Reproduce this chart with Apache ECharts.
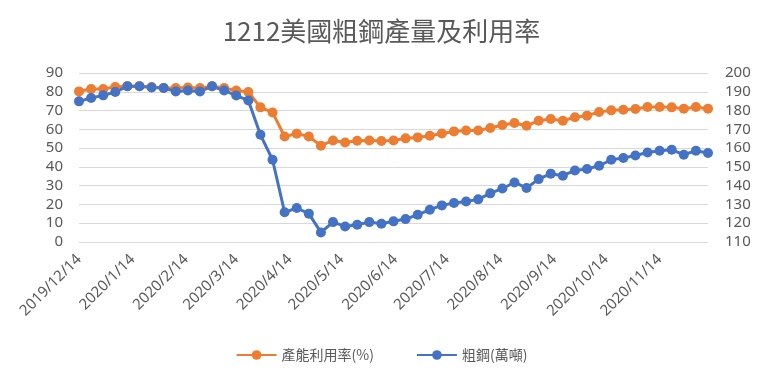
<!DOCTYPE html>
<html><head><meta charset="utf-8">
<script src="https://cdn.jsdelivr.net/npm/echarts@6/dist/echarts.min.js"></script>
<style>html,body{margin:0;padding:0;background:#fff}#c{width:763px;height:383px}</style>
</head><body><div id="c"></div>
<script>
const dates = ['2019-12-14','2019-12-21','2019-12-28','2020-01-04','2020-01-11','2020-01-18','2020-01-25',
'2020-02-01','2020-02-08','2020-02-15','2020-02-22','2020-02-29','2020-03-07','2020-03-14','2020-03-21','2020-03-28',
'2020-04-04','2020-04-11','2020-04-18','2020-04-25','2020-05-02','2020-05-09','2020-05-16','2020-05-23','2020-05-30',
'2020-06-06','2020-06-13','2020-06-20','2020-06-27','2020-07-04','2020-07-11','2020-07-18','2020-07-25',
'2020-08-01','2020-08-08','2020-08-15','2020-08-22','2020-08-29','2020-09-05','2020-09-12','2020-09-19','2020-09-26',
'2020-10-03','2020-10-10','2020-10-17','2020-10-24','2020-10-31','2020-11-07','2020-11-14','2020-11-21','2020-11-28',
'2020-12-05','2020-12-12'];
const utilization = [80.2,81.5,81.5,82.5,83,83,82.5,82,82,82.3,82,83,82,80.7,79.9,71.7,69,56.2,57.7,56.2,51.3,54.1,53.0,53.9,54.1,53.8,54.1,55.2,55.7,56.6,57.8,58.9,59.4,59.4,60.7,62.3,63.4,61.9,64.6,65.5,64.6,66.4,67.3,69.2,70.1,70.4,70.8,71.9,71.9,71.7,71.0,71.9,71.0];
const steel = [184.9,186.7,188.1,189.9,192.9,192.9,192.3,192,190.2,190.7,190.2,192.9,190.7,188,185.4,167.1,153.8,125.8,128.1,125.1,115.1,120.6,118.3,119.2,120.6,119.7,121.0,122.2,124.5,127.2,129.5,130.8,131.6,132.7,135.9,138.5,141.7,138.8,143.5,146.4,145.3,148.1,148.9,150.6,153.8,154.7,156.1,157.7,158.6,159.1,156.5,158.6,157.4];
const monthLabels = ['2019/12/14','2020/1/14','2020/2/14','2020/3/14','2020/4/14','2020/5/14','2020/6/14','2020/7/14','2020/8/14','2020/9/14','2020/10/14','2020/11/14'];
const seriesNames = ['產能利用率(%)','粗鋼(萬噸)'];
const titleText = '1212美國粗鋼產量及利用率';

function toTs(s){ const p = s.split(/[-\/]/).map(Number); return Date.UTC(p[0], p[1]-1, p[2]); }
const t0 = toTs(dates[0]);
function dayOf(s){ return Math.round((toTs(s)-t0)/86400000); }
const labelDays = monthLabels.map(dayOf);
const labelMap = {};
monthLabels.forEach((l,i)=>{ labelMap[labelDays[i]] = l; });

const font = '"Noto Sans CJK TC","Noto Sans",sans-serif';
const chart = echarts.init(document.getElementById('c'), null, {renderer:'canvas'});
chart.setOption({
  animation:false,
  textStyle:{fontFamily:font},
  title:{text:titleText,left:'center',top:13,textStyle:{fontSize:26,fontWeight:'normal',color:'#595959',fontFamily:font}},
  grid:{left:79,right:55,top:73,bottom:141},
  legend:{bottom:16,left:'center',itemWidth:40,itemHeight:12,itemGap:42,
    textStyle:{fontSize:14,color:'#595959',fontFamily:font},data:seriesNames},
  xAxis:{type:'value',min:0,max:dayOf(dates[dates.length-1]),
    axisLine:{show:false},axisTick:{show:false},splitLine:{show:false},
    axisLabel:{customValues:labelDays,rotate:45,fontSize:15,color:'#595959',margin:15,fontFamily:'"Noto Sans",sans-serif',
      hideOverlap:false,
      formatter:function(v){return labelMap[Math.round(v)] || '';}}},
  yAxis:[
    {type:'value',min:0,max:90,interval:10,axisLine:{show:false},axisTick:{show:false},
     axisLabel:{fontSize:15,color:'#595959',margin:16,fontFamily:'"Noto Sans",sans-serif'},splitLine:{lineStyle:{color:'#D9D9D9',width:1}}},
    {type:'value',min:110,max:200,interval:10,axisLine:{show:false},axisTick:{show:false},
     axisLabel:{fontSize:15,color:'#595959',margin:17,fontFamily:'"Noto Sans",sans-serif'},splitLine:{show:false}}
  ],
  series:[
    {name:seriesNames[0],type:'line',yAxisIndex:0,symbol:'circle',symbolSize:10,
     itemStyle:{color:'#ED7D31'},lineStyle:{width:3,color:'#ED7D31'},
     data:dates.map((d,i)=>[dayOf(d),utilization[i]])},
    {name:seriesNames[1],type:'line',yAxisIndex:1,symbol:'circle',symbolSize:10,
     itemStyle:{color:'#4472C4'},lineStyle:{width:3,color:'#4472C4'},
     data:dates.map((d,i)=>[dayOf(d),steel[i]])}
  ]
});
</script></body></html>
